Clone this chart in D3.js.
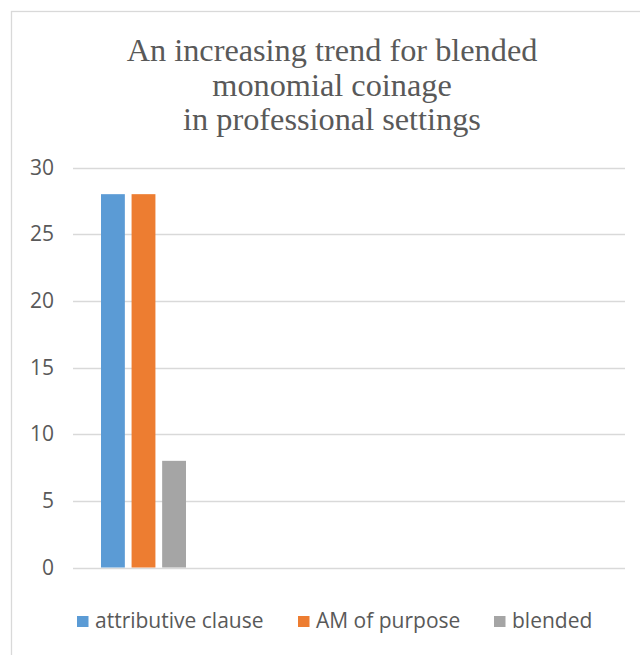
<!DOCTYPE html>
<html>
<head>
<meta charset="utf-8">
<script src="https://cdn.jsdelivr.net/npm/d3@7"></script>
<style>
  html, body { margin: 0; padding: 0; background: #fff; }
  svg { display: block; }
</style>
</head>
<body>
<div id="chart"></div>
<script>
// ---- data ----
const titleLines = ["An increasing trend for blended", "monomial coinage", "in professional settings"];
const categories = ["c1", "c2", "c3", "c4"];
const seriesNames = ["attributive clause", "AM of purpose", "blended"];
const attributiveClause = [28, null, null, null];
const amOfPurpose = [28, null, null, null];
const blended = [8, null, null, null];
const yTicks = [0, 5, 10, 15, 20, 25, 30];
const colors = ["#5b9bd5", "#ed7d31", "#a5a5a5"];

const seriesValues = [attributiveClause, amOfPurpose, blended];

const W = 640, H = 655;
const svg = d3.select("#chart").append("svg").attr("width", W).attr("height", H);

// outer chart border
svg.append("rect").attr("x", 11.5).attr("y", 11.5).attr("width", W + 20).attr("height", H + 20)
  .attr("fill", "#fff").attr("stroke", "#d9d9d9").attr("stroke-width", 1.3);

// title
const title = svg.append("text").attr("text-anchor", "middle")
  .attr("font-family", "'Liberation Serif', 'Times New Roman', serif")
  .attr("font-size", 32.3).attr("fill", "#595959");
titleLines.forEach((t, i) => {
  title.append("tspan").attr("x", 332).attr("y", 61 + i * 34.5).text(t);
});

const plot = { left: 73, right: 625, top: 167.5, bottom: 567.5 };

const y = d3.scaleLinear().domain([0, 30]).range([plot.bottom, plot.top]);
const x0 = d3.scaleBand().domain(categories).range([plot.left, plot.right]).paddingInner(0).paddingOuter(0);
const groupW = 85;
const x1 = d3.scaleBand().domain(seriesNames).range([0, groupW]).paddingInner(0.22).paddingOuter(0);

// gridlines
svg.append("g").selectAll("line").data(yTicks).join("line")
  .attr("x1", plot.left).attr("x2", plot.right)
  .attr("y1", d => Math.round(y(d)) + 0.5).attr("y2", d => Math.round(y(d)) + 0.5)
  .attr("stroke", "#d9d9d9").attr("stroke-width", 1.3);

// y axis labels
const yAxis = d3.axisLeft(y).tickValues(yTicks).tickSize(0).tickPadding(19);
const ya = svg.append("g").attr("transform", `translate(${plot.left},0)`).call(yAxis);
ya.select(".domain").remove();
ya.selectAll("text").attr("font-family", "'Open Sans', sans-serif").attr("font-size", 21).attr("fill", "#595959");

// bars
const groups = svg.append("g").selectAll("g").data(categories).join("g")
  .attr("transform", d => `translate(${x0(d) + (x0.bandwidth() - groupW) / 2 + 1.5},0)`);
groups.selectAll("rect")
  .data((c, ci) => seriesNames.map((s, si) => ({ s, si, v: seriesValues[si][ci] })).filter(d => d.v != null))
  .join("rect")
  .attr("x", d => x1(d.s))
  .attr("width", x1.bandwidth())
  .attr("y", d => y(d.v))
  .attr("height", d => y(0) - y(d.v))
  .attr("fill", d => colors[d.si]);

// legend
const legendX = [77, 298, 494];
const lg = svg.append("g");
seriesNames.forEach((s, i) => {
  const g = lg.append("g").attr("transform", `translate(${legendX[i]},616)`);
  g.append("rect").attr("width", 11.5).attr("height", 11).attr("fill", colors[i]);
  g.append("text").attr("x", 18).attr("y", 11.5)
    .attr("font-family", "'Open Sans', sans-serif").attr("font-size", 21).attr("fill", "#595959")
    .text(s);
});
</script>
</body>
</html>
